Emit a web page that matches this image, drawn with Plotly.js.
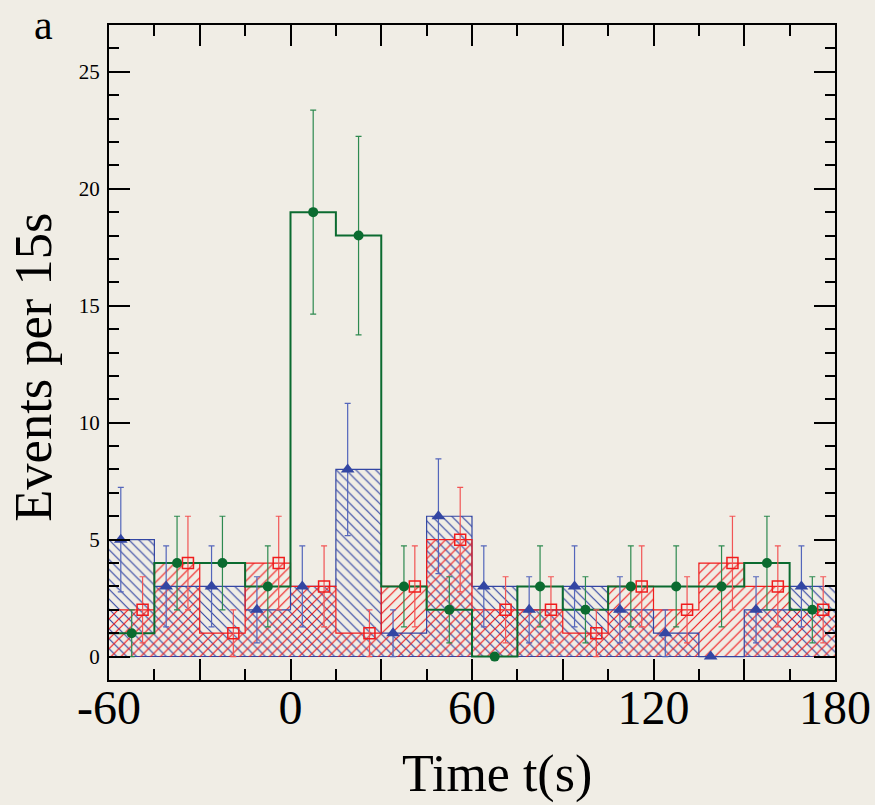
<!DOCTYPE html>
<html><head><meta charset="utf-8">
<script src="https://cdn.plot.ly/plotly-3.0.1.min.js"></script>
<style>html,body{margin:0;padding:0;background:#f0ede5;}</style>
</head><body><div id="chart" style="width:875px;height:805px;"></div>
<script>
// ---- data ----
const binCenters = [-52.5,-37.5,-22.5,-7.5,7.5,22.5,37.5,52.5,67.5,82.5,97.5,112.5,127.5,142.5,157.5,172.5];
const blueCounts  = [5,3,3,2,3,8,1,6,3,2,3,2,1,0,2,3];
const redCounts   = [2,4,1,4,3,1,3,5,2,2,1,3,2,4,3,2];
const greenCounts = [1,4,4,3,19,18,3,2,0,3,2,3,3,3,4,2];
const xTickVals = [-60,-30,0,30,60,90,120,150,180];
const xTickText = ['-60','','0','','60','','120','','180'];
const yTickVals = [0,5,10,15,20,25];
const yTickText = ['0','5','10','15','20','25'];
const panelLabel = 'a';
const xTitle = 'Time t(s)';
const yTitle = 'Events per 15s';

// ---- style ----
const BIN = 15;
const MARK_OFF = 3.6;
const BLUE = '#3346a3', BLUE_L = '#5466bb';
const RED = '#f01c1c', RED_L = '#f25555';
const GREEN = '#0b6b30', GREEN_L = '#2e8a50';
const FONT = 'Liberation Serif, Times New Roman, serif';

const edges = binCenters.map(c => c - BIN/2).concat([binCenters[binCenters.length-1] + BIN/2]);
const stepY = arr => arr.concat([arr[arr.length-1]]);
const shift = d => binCenters.map(c => c + d);

function hatchBar(y, shape, col){
  return {type:'bar', x:binCenters, y:y, width:BIN, hoverinfo:'skip',
    marker:{color:'rgba(0,0,0,0)', line:{width:0},
      pattern:{shape:shape, fgcolor:col, bgcolor:'rgba(0,0,0,0)', size:7, solidity:0.17, fillmode:'replace'}}};
}
function step(y, col, w){
  return {type:'scatter', mode:'lines', x:edges, y:stepY(y), line:{shape:'hv', color:col, width:w}, hoverinfo:'skip'};
}
function pts(x, y, col, lcol, sym, size){
  return {type:'scatter', mode:'markers', x:x, y:y,
    marker:{symbol:sym, size:size, color:col, line:{color:col, width: sym.indexOf('open')>=0 ? 1.5 : 0}},
    error_y:{type:'sqrt', color:lcol, thickness:1.2, width:3}};
}

const traces = [
  hatchBar(blueCounts, '\\', BLUE),
  hatchBar(redCounts, '/', RED),
  step(blueCounts, BLUE, 1.2),
  step(redCounts, RED, 1.2),
  step(greenCounts, GREEN, 2),
  pts(shift(-MARK_OFF), blueCounts, BLUE, BLUE_L, 'triangle-up', 12),
  pts(shift(MARK_OFF), redCounts, RED, RED_L, 'square-open', 11),
  pts(binCenters, greenCounts, GREEN, GREEN_L, 'circle', 10)
];

const layout = {
  width:875, height:805,
  paper_bgcolor:'#f0ede5', plot_bgcolor:'#f0ede5',
  margin:{l:108.5, r:40.3, t:24.5, b:125},
  showlegend:false, barmode:'overlay', bargap:0,
  font:{family:FONT, color:'#000'},
  annotations:[
    {text:panelLabel, xref:'paper', yref:'paper', x:-0.1053, xanchor:'left', y:1.0374, yanchor:'top',
     showarrow:false, font:{family:FONT, size:42, color:'#000'}, borderpad:0},
    {text:xTitle, xref:'paper', yref:'paper', x:0.535, xanchor:'center', y:-0.098, yanchor:'top',
     showarrow:false, font:{family:FONT, size:52, color:'#000'}, borderpad:0},
    {text:yTitle, xref:'paper', yref:'paper', x:-0.104, xanchor:'center', y:0.4775, yanchor:'middle',
     textangle:-90, showarrow:false, font:{family:FONT, size:52.5, color:'#000'}, borderpad:0}
  ],
  xaxis:{range:[-60,180], tickmode:'array', tickvals:xTickVals, ticktext:xTickText,
    ticks:'inside', ticklen:21, tickwidth:2, tickcolor:'#000', ticklabelstandoff:-16,
    minor:{tickmode:'linear', tick0:-60, dtick:15, ticks:'inside', ticklen:11, tickwidth:2, tickcolor:'#000'},
    showline:true, linewidth:2, linecolor:'#000', mirror:'ticks', showgrid:false, zeroline:false,
    tickfont:{family:FONT, size:48, color:'#000'}},
  yaxis:{range:[-1,27], tickmode:'array', tickvals:yTickVals, ticktext:yTickText,
    ticks:'inside', ticklen:21, tickwidth:2, tickcolor:'#000', ticklabelstandoff:3,
    minor:{tickmode:'linear', tick0:0, dtick:1, ticks:'inside', ticklen:10, tickwidth:2, tickcolor:'#000'},
    showline:true, linewidth:2, linecolor:'#000', mirror:'ticks', showgrid:false,
    zeroline:true, zerolinecolor:BLUE, zerolinewidth:1.2,
    tickfont:{family:FONT, size:21, color:'#000'}}
};

Plotly.newPlot('chart', traces, layout, {displayModeBar:false, staticPlot:true});
</script></body></html>
